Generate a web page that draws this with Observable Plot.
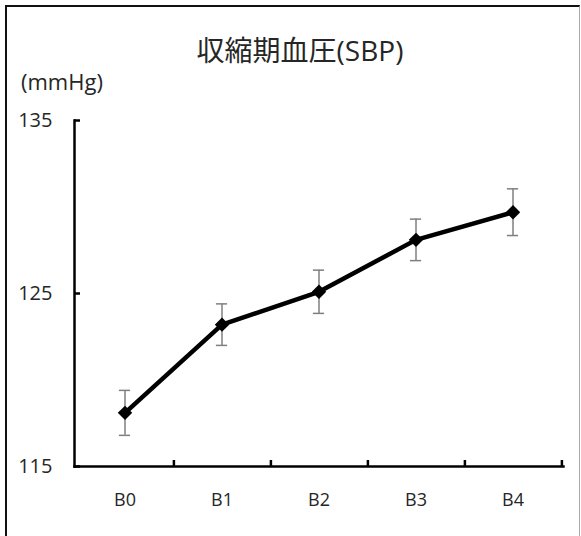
<!DOCTYPE html>
<html>
<head>
<meta charset="utf-8">
<script src="https://cdn.jsdelivr.net/npm/d3@7"></script>
<script src="https://cdn.jsdelivr.net/npm/@observablehq/plot@0.6"></script>
<style>
  body { margin: 0; background: #fff; }
  #wrap { position: relative; width: 581px; height: 536px; overflow: hidden; background: #fff; }
  #frame { position: absolute; left: 5px; top: 5px; width: 572px; height: 560px;
           border-left: 2px solid #111; border-top: 2px solid #111; border-right: 1px solid #aaa; }
  #title { position: absolute; top: 29px; left: 300px; transform: translateX(-50%); white-space: nowrap;
           font-family: "Open Sans", "Noto Sans CJK JP", sans-serif; font-size: 28px; color: #262626; }
  #unit { position: absolute; top: 66px; left: 21px; white-space: nowrap;
          font-family: "Open Sans", sans-serif; font-size: 22px; color: #262626; }
  #chart { position: absolute; left: 0; top: 0; }
</style>
</head>
<body>
<div id="wrap">
  <div id="frame"></div>
  <div id="title">収縮期血圧(SBP)</div>
  <div id="unit">(mmHg)</div>
  <div id="chart"></div>
</div>
<script>
const categories = ["B0", "B1", "B2", "B3", "B4"];
const sbpMean = [118.1, 123.2, 125.1, 128.1, 129.7];
const sbpErr = [1.3, 1.2, 1.25, 1.2, 1.35];
const yTicks = [115, 125, 135];

const data = categories.map((c, i) => ({cat: c, v: sbpMean[i], lo: sbpMean[i] - sbpErr[i], hi: sbpMean[i] + sbpErr[i]}));

const W = 581, H = 536, mL = 74, mR = 18, mT = 120, mB = 70;
const bw = (W - mL - mR) / categories.length;
const capInset = (bw - 12) / 2;

const chart = Plot.plot({
  width: W, height: H,
  marginTop: mT, marginBottom: mB, marginLeft: mL, marginRight: mR,
  x: {domain: categories, padding: 0, axis: null, label: null},
  y: {domain: [115, 135], axis: null, label: null},
  style: {fontFamily: "'Open Sans', sans-serif", fontSize: "18px", color: "#262626", background: "transparent"},
  marks: [
    Plot.ruleX(data, {x: "cat", y1: "lo", y2: "hi", stroke: "#7f7f7f", strokeWidth: 1.5}),
    Plot.tickY(data, {x: "cat", y: "lo", stroke: "#7f7f7f", strokeWidth: 1.5, insetLeft: capInset, insetRight: capInset}),
    Plot.tickY(data, {x: "cat", y: "hi", stroke: "#7f7f7f", strokeWidth: 1.5, insetLeft: capInset, insetRight: capInset}),
    Plot.frame({anchor: "left", stroke: "#000", strokeWidth: 2.5}),
    Plot.frame({anchor: "bottom", stroke: "#000", strokeWidth: 2.5}),
    Plot.axisY(yTicks, {tickSize: -6, tickPadding: 28, stroke: "#000", strokeWidth: 2.5, label: null, fontSize: 20}),
    Plot.axisX({tickSize: -6, dx: bw / 2, tickFormat: () => "", stroke: "#000", strokeWidth: 2.5, label: null}),
    Plot.axisX({tickSize: 0, tickPadding: 27, label: null, fontSize: 18}),
    Plot.line(data, {x: "cat", y: "v", stroke: "#000", strokeWidth: 4.5}),
    Plot.dot(data, {x: "cat", y: "v", symbol: "diamond2", r: 6.5, fill: "#000", stroke: "none"})
  ]
});
document.getElementById("chart").appendChild(chart);
</script>
</body>
</html>
